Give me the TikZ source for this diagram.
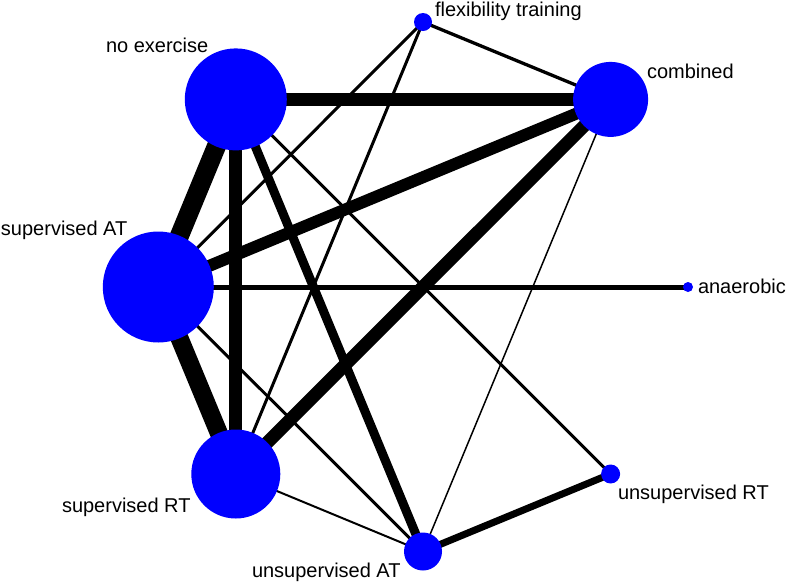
\documentclass[tikz,border=0pt]{standalone}
\usepackage{fontspec}
\setmainfont{Liberation Sans}
\usetikzlibrary{backgrounds}
\definecolor{nodeblue}{RGB}{0,0,255}
\begin{document}
\begin{tikzpicture}[x=1pt,y=-1pt,
  trt/.style={circle,fill=nodeblue,draw=none,inner sep=0pt,outer sep=0pt},
  lbl/.style={font=\fontsize{20}{24}\selectfont,inner sep=0pt,outer sep=0pt,anchor=base west},
  edge/.style={draw=black,line cap=butt}]
\useasboundingbox (0,0) rectangle (787,582);
% treatment nodes
\node[trt,minimum size=102pt] (ne)   at (235.8,99.4) {};
\node[trt,minimum size=18pt]  (flex) at (423,22) {};
\node[trt,minimum size=75pt]  (comb) at (610.6,99.4) {};
\node[trt,minimum size=111pt] (sat)  at (158.3,287) {};
\node[trt,minimum size=10pt]  (ana)  at (688,287) {};
\node[trt,minimum size=89pt]  (srt)  at (235.8,474) {};
\node[trt,minimum size=19pt]  (urt)  at (610.6,474) {};
\node[trt,minimum size=38pt]  (uat)  at (423,551.5) {};
% labels
\node[lbl] (lne)   at (106,52)  {no exercise};
\node[lbl] (lflex) at (435,16)  {flexibility training};
\node[lbl] (lcomb) at (647,78)  {combined};
\node[lbl] (lsat)  at (1,235)   {supervised AT};
\node[lbl] (lana)  at (698,293) {anaerobic};
\node[lbl] (lsrt)  at (62,512)  {supervised RT};
\node[lbl] (lurt)  at (618,499) {unsupervised RT};
\node[lbl] (luat)  at (252,577) {unsupervised AT};
% connectors
\begin{pgfonlayer}{background}
\draw[edge,line width=19pt]  (ne.center) -- (sat.center);
\draw[edge,line width=13pt]  (ne.center) -- (srt.center);
\draw[edge,line width=13pt]  (ne.center) -- (comb.center);
\draw[edge,line width=9pt]   (ne.center) -- (uat.center);
\draw[edge,line width=3pt]   (ne.center) -- (urt.center);
\draw[edge,line width=18pt]  (sat.center) -- (srt.center);
\draw[edge,line width=12pt]  (sat.center) -- (comb.center);
\draw[edge,line width=5pt]   (sat.center) -- (ana.center);
\draw[edge,line width=3pt]   (sat.center) -- (flex.center);
\draw[edge,line width=3pt]   (sat.center) -- (uat.center);
\draw[edge,line width=13pt]  (srt.center) -- (comb.center);
\draw[edge,line width=3pt]   (srt.center) -- (flex.center);
\draw[edge,line width=2pt]   (srt.center) -- (uat.center);
\draw[edge,line width=3.3pt] (comb.center) -- (flex.center);
\draw[edge,line width=1.5pt] (comb.center) -- (uat.center);
\draw[edge,line width=7pt]   (uat.center) -- (urt.center);
\end{pgfonlayer}
\end{tikzpicture}
\end{document}
